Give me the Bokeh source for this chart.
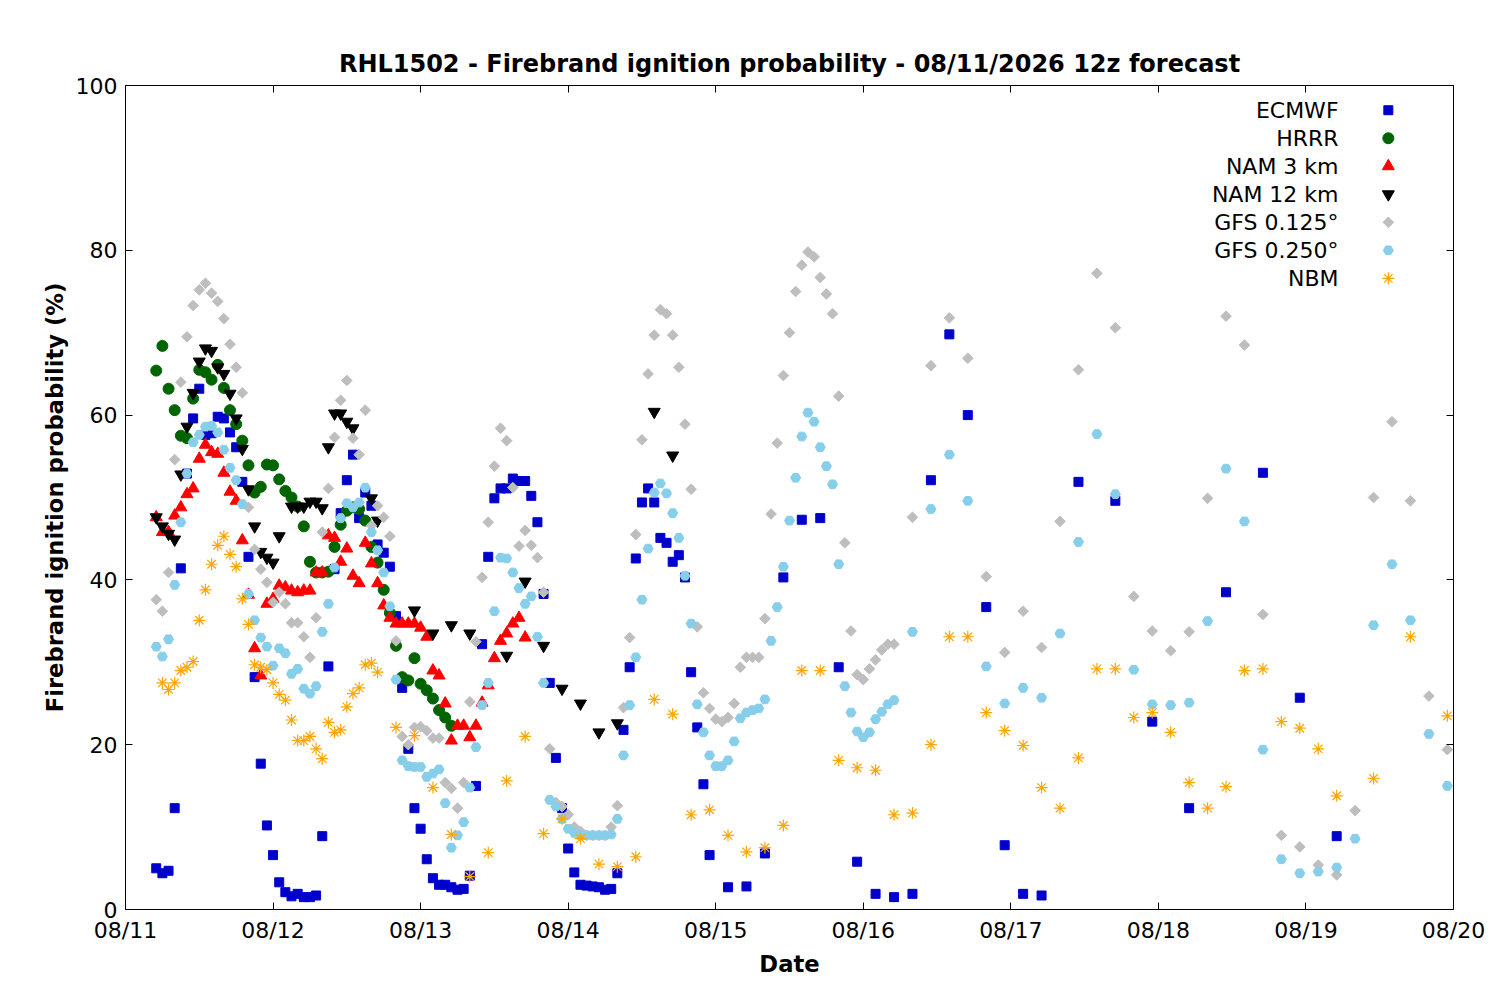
from bokeh.plotting import figure
from bokeh.models import Range1d, FixedTicker, LinearAxis, Label
from bokeh.embed import file_html
from bokeh.resources import INLINE

FONT = "DejaVu Sans"
title = "RHL1502 - Firebrand ignition probability - 08/11/2026 12z forecast"
tick_hours = [0, 24, 48, 72, 96, 120, 144, 168, 192, 216]
tick_labels = ["08/11", "08/12", "08/13", "08/14", "08/15", "08/16", "08/17", "08/18", "08/19", "08/20"]

# hours are local hours since 08/11 00:00
ecmwf_h_start = 5
ecmwf_hourly = [5.0, 4.4, 4.7, 12.3, 41.4, 52.9, 59.6, 63.2, 57.6, 57.8,
                59.8, 59.6, 57.9, 56.1, 51.9, 42.8, 28.2, 17.7, 10.2, 6.6,
                3.3, 2.1, 1.6, 1.9, 1.5, 1.5, 1.7, 8.9, 29.5, 41.3,
                48.1, 52.1, 55.2, 47.5, 50.6, 49, 44.3, 43.3, 41.6, 35.6,
                26.9, 19.5, 12.3, 9.8, 6.1, 3.8, 3, 3, 2.7, 2.4,
                2.5, 4.1, 15, 32.2, 42.8, 49.9, 51.1, 51.1, 52.3, 52,
                52, 50.2, 47, 38.3, 27.5, 18.4, 12.3, 7.4, 4.5, 3,
                2.9, 2.8, 2.7, 2.4, 2.5, 4.4, 21.8, 29.4, 42.6, 49.4,
                51.1, 49.4, 45.1, 44.5, 42.2, 43, 40.3, 28.8, 22.1, 15.2, 6.6]
ecmwf_late_h = [98, 101, 104, 107, 110, 113, 116, 119, 122, 125, 128, 131, 134, 137, 140, 143, 146, 149,
                155, 161, 167, 173, 179, 185, 191, 197]
ecmwf_late = [2.7, 2.8, 6.8, 40.3, 47.3, 47.5, 29.4, 5.8, 1.9, 1.5, 1.9, 52.1, 69.8, 60, 36.7, 7.8, 1.9, 1.7,
              51.9, 49.6, 22.8, 12.3, 38.5, 53, 25.7, 8.9]

hrrr_h_start = 5
hrrr = [65.4, 68.4, 63.2, 60.6, 57.5, 57.2, 62, 65.5, 65.2, 64.3,
        66.1, 63.3, 60.6, 58.9, 56.9, 53.9, 50.6, 51.3, 54, 53.9,
        52.2, 50.8, 50, 48.9, 46.5, 42.2, 40.9, 40.9, 41, 44,
        46.7, 48.4, 48.8, 48.6, 47.2, 44, 42.1, 38.8, 36, 32,
        28.2, 27.8, 30.5, 27.4, 26.6, 25.6, 24.2, 23.3, 22.3]

nam3_h_start = 5
nam3 = [47.6, 45.8, 45.8, 47.8, 48.8, 50.4, 51.1, 54.7, 56.4, 55.5,
        55.3, 53, 50.7, 49.6, 44.8, 38.2, 31.7, 28.4, 37.1, 37.7,
        39.3, 39.1, 38.7, 38.5, 38.7, 38.7, 40.9, 40.9, 45.4, 45.1,
        42.2, 43.8, 40.5, 39.6, 44.5, 42, 39.6, 36.9, 35.4, 34.7,
        34.7, 34.7, 34.7, 34.2, 33.1, 29, 28.4, 25, 20.5, 22.3,
        22.3, 20.9, 22.3, 25.1, 27.2, 30.5, 32.6, 33.5, 34.7, 35.4, 33]

nam12_h = [5, 6, 7, 8, 9, 10, 11, 12, 13, 14, 15, 16, 17, 18, 19, 20, 21, 22, 23, 24, 25,
           27, 28, 29, 30, 31, 32, 33, 34, 35, 36, 37, 40, 41, 47, 50, 53, 56, 62, 65, 68, 71, 74, 77, 80, 86, 89]
nam12 = [47.6, 46.5, 45.6, 44.9, 52.8, 58.6, 62.7, 66.5, 68.1, 67.8, 65.8, 65, 62.6, 59.6, 55.9, 51, 46.5,
         43.4, 42.7, 42.1, 45.3, 48.9, 48.9, 48.9, 49.5, 49.5, 48.7, 56.1, 60.2, 60.2, 59.2, 58.4, 49.9,
         47.2, 36.3, 33.5, 34.5, 33.5, 30.8, 39.8, 32, 26.8, 25, 21.5, 22.6, 60.4, 55.1]

gfs125_h_start = 5
gfs125_hourly = [37.6, 36.2, 40.9, 54.6, 64, 69.5, 73.3, 75.2, 76, 74.8,
                 73.8, 71.7, 68.6, 65.8, 62.7, 48.8, 43.7, 41.3, 39.7, 37.3,
                 38.5, 37.1, 34.8, 34.8, 33.1, 30.6, 35.4, 45.8, 51.1, 57.3,
                 61.8, 64.2, 57.2, 55.2, 60.6, 46.6, 49, 47.6, 45.3, 32.6,
                 21, 20, 22.1, 22.2, 21.7, 20.8, 20.8, 15.4, 14.7, 12.3,
                 15.4, 25.2, 32.5, 40.3, 47, 53.8, 58.4, 56.9, 51.2, 44.1,
                 46, 44.2, 42.7, 38.5, 19.5, 13, 12.5, 11.5, 10, 9.5,
                 9, 9, 9, 9, 10, 12.6, 24.5, 33, 45.5, 57,
                 65, 69.7, 72.8, 72.3, 69.7, 65.8, 58.9, 51, 34.3, 26.3,
                 24.4, 23.1, 22.8, 23.3, 25, 29.4, 30.6, 30.6, 30.6, 35.3,
                 48, 56.6, 64.8, 70, 75, 78.2, 79.8, 79.2, 76.7, 74.7,
                 72.3, 62.3, 44.5, 33.8, 28.5, 27.9, 29.2, 30.3, 31.5, 32.2, 32.2]
gfs_late_start = 128
gfs125_late = [47.6, 66, 71.8, 66.9, 40.4, 31.2, 36.2, 31.8, 47.1, 65.5,
               77.2, 70.6, 38, 33.8, 31.4, 33.7, 49.9, 72, 68.5, 35.8,
               9, 7.6, 5.4, 4.2, 12, 50, 59.2, 49.6, 25.9, 19.4]

gfs250_hourly = [31.9, 30.7, 32.8, 39.4, 47, 52.9, 56.7, 57.6, 58.6, 58.7,
                 57.9, 55.8, 53.6, 52.1, 49.2, 38.3, 35.1, 33, 31.9, 29.6,
                 31.7, 31.1, 28.6, 29.2, 26.8, 26.2, 27.1, 33.7, 37.1, 41.5,
                 47.5, 49.3, 48.8, 49.4, 51.2, 45.8, 43.6, 40.9, 36.8, 27.9,
                 18.1, 17.4, 17.3, 17.3, 16.1, 16.5, 17, 12.9, 7.5, 9,
                 10.6, 14.8, 19.7, 24.8, 27.5, 36.2, 42.7, 42.6, 40.9, 39,
                 37.1, 38, 33.1, 27.5, 13.3, 12.5, 11, 9.8, 9.3, 9,
                 9, 9, 9, 9, 9.1, 11, 18.7, 24.8, 30.6, 37.6,
                 43.8, 50.6, 51.7, 50.5, 48.1, 45.1, 40.5, 34.7, 24.9, 21.5,
                 18.7, 17.4, 17.4, 18.1, 20.4, 23.2, 23.9, 24.2, 24.4, 25.5,
                 32.6, 36.7, 41.6, 47.2, 52.4, 57.4, 60.3, 59.2, 56.1, 53.8,
                 51.6, 41.9, 27.1, 23.9, 21.6, 20.9, 21.5, 23.1, 24, 24.9, 25.4]
gfs250_late = [33.7, 48.6, 55.2, 49.6, 29.5, 25, 26.9, 25.7, 33.5, 44.6,
               57.7, 50.4, 29.1, 24.9, 24.8, 25.1, 35, 53.5, 47.1, 19.4,
               6.1, 4.4, 4.6, 5.1, 8.6, 34.5, 41.9, 35.1, 21.3, 15]

nbm_h_start = 6
nbm_hourly = [27.5, 26.7, 27.5, 29, 29.4, 30.1, 35.1, 38.8, 41.9, 44.2,
              45.3, 43.1, 41.6, 37.7, 34.6, 29.7, 29.4, 29.1, 27.5, 26.1,
              25.4, 23, 20.5, 20.5, 21, 19.5, 18.3, 22.7, 21.5, 21.8,
              24.6, 26.2, 26.9, 29.7, 29.9, 28.8]
nbm_late_h = [44, 47, 50, 53, 56, 59, 62, 65, 68, 71, 74, 77, 80, 83, 86, 89, 92, 95, 98, 101, 104, 107,
              110, 113, 116, 119, 122, 125, 128, 131, 134, 137, 140, 143, 146, 149, 152, 155, 158, 161,
              164, 167, 170, 173, 176, 179, 182, 185, 188, 191, 194, 197, 203, 209, 215]
nbm_late = [22.1, 21.1, 14.8, 9.1, 4.0, 6.9, 15.6, 21, 9.2, 11, 8.6, 5.5, 5.2, 6.4, 25.5, 23.7, 11.5,
            12.1, 9, 7, 7.5, 10.2, 29, 29, 18.1, 17.2, 16.9, 11.5, 11.7, 20, 33.1, 33.1, 23.9, 21.7,
            19.9, 14.8, 12.3, 18.4, 29.2, 29.2, 23.3, 23.9, 21.5, 15.4, 12.3, 14.9, 29, 29.2, 22.8,
            22, 19.5, 13.8, 15.9, 33.1, 23.5]


def hours_from(start, n):
    return [start + i for i in range(n)]


ecmwf_x = hours_from(ecmwf_h_start, len(ecmwf_hourly)) + ecmwf_late_h
ecmwf_y = ecmwf_hourly + ecmwf_late
hrrr_x = hours_from(hrrr_h_start, len(hrrr))
nam3_x = hours_from(nam3_h_start, len(nam3))
late3 = hours_from(0, len(gfs125_late))
gfs_late_x = [gfs_late_start + 3 * i for i in late3]
gfs125_x = hours_from(gfs125_h_start, len(gfs125_hourly)) + gfs_late_x
gfs125_y = gfs125_hourly + gfs125_late
gfs250_x = hours_from(gfs125_h_start, len(gfs250_hourly)) + gfs_late_x
gfs250_y = gfs250_hourly + gfs250_late
nbm_x = hours_from(nbm_h_start, len(nbm_hourly)) + nbm_late_h
nbm_y = nbm_hourly + nbm_late

p = figure(width=1492, height=993, output_backend="svg", toolbar_location=None,
           x_range=Range1d(0, 216), y_range=Range1d(0, 100),
           min_border_left=125, min_border_right=39, min_border_top=85, min_border_bottom=84)
p.title.text = title
p.title.align = "center"
p.title.text_font = FONT
p.title.text_font_size = "18pt"
p.title.text_font_style = "bold"
p.title.text_color = "black"
p.title.offset = 0
p.title.standoff = 16
p.grid.visible = False
p.outline_line_color = "black"
p.outline_line_width = 1

p.xaxis.ticker = FixedTicker(ticks=tick_hours)
p.xaxis.major_label_overrides = {h: l for h, l in zip(tick_hours, tick_labels)}
p.yaxis.ticker = FixedTicker(ticks=[0, 20, 40, 60, 80, 100])
p.xaxis.axis_label = "Date"
p.yaxis.axis_label = "Firebrand ignition probability (%)"
for ax in (p.xaxis, p.yaxis):
    ax.axis_label_text_font = FONT
    ax.axis_label_text_font_style = "bold"
    ax.axis_label_text_font_size = "17pt"
    ax.axis_label_text_color = "black"
    ax.major_label_text_font = FONT
    ax.major_label_text_font_size = "16.5pt"
    ax.major_label_text_color = "black"
    ax.major_tick_in = 7
    ax.major_tick_out = 0
    ax.minor_tick_in = 0
    ax.minor_tick_out = 0
    ax.axis_line_color = None
    ax.major_label_standoff = 8

for loc, ticks in (("right", [0, 20, 40, 60, 80, 100]), ("above", tick_hours)):
    a = LinearAxis(ticker=FixedTicker(ticks=ticks), major_label_text_font_size="0pt",
                   major_tick_in=7, major_tick_out=0, minor_tick_in=0, minor_tick_out=0,
                   axis_line_color=None)
    p.add_layout(a, loc)

p.scatter(ecmwf_x, ecmwf_y, marker="square", size=9, color="#0000cc")
p.scatter(hrrr_x, hrrr, marker="circle", size=11, color="#006400")
p.scatter(nam3_x, nam3, marker="triangle", size=12, color="#ff0000")
p.scatter(nam12_h, nam12, marker="inverted_triangle", size=12, color="black")
p.scatter(gfs125_x, gfs125_y, marker="square", size=7.5, angle=0.785, color="#bebebe")
p.scatter(gfs250_x, gfs250_y, marker="hex", size=10, color="#87ceeb")
p.scatter(nbm_x, nbm_y, marker="asterisk", size=12, line_color="#ffa500", line_width=1.2)

# legend (gnuplot style: text right-aligned, marker to the right)
names = ["ECMWF", "HRRR", "NAM 3 km", "NAM 12 km", "GFS 0.125°", "GFS 0.250°", "NBM"]
styles = [("square", 9, "#0000cc", 0), ("circle", 11, "#006400", 0), ("triangle", 12, "#ff0000", 0),
          ("inverted_triangle", 12, "black", 0), ("square", 7.5, "#bebebe", 0.785), ("hex", 10, "#87ceeb", 0),
          ("asterisk", 12, "#ffa500", 0)]
leg_y = [97.0, 93.6, 90.2, 86.8, 83.4, 80.0, 76.6]
for n, (m, s, c, ang), yy in zip(names, styles, leg_y):
    p.add_layout(Label(x=197.3, y=yy, text=n, text_align="right", text_baseline="middle",
                       text_font=FONT, text_font_size="16.5pt", text_color="black"))
    if m == "asterisk":
        p.scatter([205.4], [yy], marker=m, size=s, line_color=c, line_width=1.2)
    else:
        p.scatter([205.4], [yy], marker=m, size=s, angle=ang, color=c)

open("out.html", "w").write(file_html(p, INLINE))
